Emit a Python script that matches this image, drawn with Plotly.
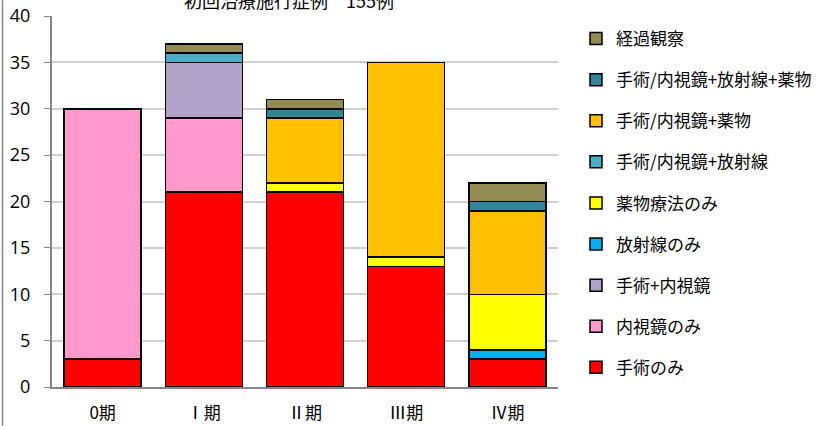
import plotly.graph_objects as go

categories = ["0期", "Ⅰ期", "Ⅱ期", "Ⅲ期", "Ⅳ期"]
series_names = ["手術のみ", "内視鏡のみ", "手術+内視鏡", "放射線のみ", "薬物療法のみ",
                "手術/内視鏡+放射線", "手術/内視鏡+薬物", "手術/内視鏡+放射線+薬物", "経過観察"]
surgery_only = [3, 21, 21, 13, 3]
endoscope_only = [27, 8, 0, 0, 0]
surgery_endoscope = [0, 6, 0, 0, 0]
radiation_only = [0, 0, 0, 0, 1]
drug_only = [0, 0, 1, 1, 6]
se_radiation = [0, 1, 0, 0, 0]
se_drug = [0, 0, 7, 21, 9]
se_radiation_drug = [0, 0, 1, 0, 1]
observation = [0, 1, 1, 0, 2]
series_values = [surgery_only, endoscope_only, surgery_endoscope, radiation_only, drug_only,
                 se_radiation, se_drug, se_radiation_drug, observation]
colors = ["#FF0000", "#FF99CC", "#B2A2C7", "#00B0F0", "#FFFF00",
          "#4BACC6", "#FFC000", "#31859C", "#948A54"]
title_text = "初回治療施行症例　155例"

fig = go.Figure()
n = len(series_names)
for i, (name, vals, col) in enumerate(zip(series_names, series_values, colors)):
    fig.add_trace(go.Bar(
        x=categories, y=vals, name=name, legendgroup=f"g{i}",
        legendrank=100 * (n - i),
        marker=dict(color=col, line=dict(color="#000000", width=1.5)),
    ))

W, H = 824, 426
ml, mr, mt, mb = 52, 266, 16, 39
pw, ph = W - ml - mr, H - mt - mb

fig.update_layout(
    width=W, height=H,
    margin=dict(l=ml, r=mr, t=mt, b=mb, autoexpand=False),
    barmode="stack", bargap=0.24,
    plot_bgcolor="white", paper_bgcolor="white",
    font=dict(family="Noto Sans CJK JP", size=15, color="#000000"),
    showlegend=True,
    legend=dict(traceorder="grouped", tracegroupgap=16, maxheight=1,
                xref="container", yref="container",
                x=576 / W, xanchor="left", y=1 - 21 / H, yanchor="top",
                font=dict(family="Noto Sans CJK JP", size=17, color="#000000"),
                bgcolor="rgba(0,0,0,0)"),
    xaxis=dict(showgrid=False, showline=True, linecolor="#868686", linewidth=2,
               ticks="", automargin=False, ticklabelstandoff=10,
               tickfont=dict(family="Noto Sans CJK JP", size=17)),
    yaxis=dict(range=[0, 40], dtick=5, showgrid=True, gridcolor="#D0D0D0", gridwidth=2,
               showline=True, linecolor="#868686", linewidth=2, ticks="outside",
               ticklen=6, tickcolor="#868686", zeroline=False, automargin=False,
               ticklabelstandoff=10,
               tickfont=dict(family="Open Sans", size=18)),
    annotations=[dict(text=title_text, xref="paper", yref="paper",
                      x=(289 - ml) / pw, y=1, xanchor="center", yanchor="bottom",
                      yshift=1, showarrow=False,
                      font=dict(family="Noto Sans CJK JP", size=18, color="#000000"))],
    shapes=[dict(type="line", xref="paper", yref="paper",
                 x0=(2.5 - ml) / pw, x1=(2.5 - ml) / pw, y0=-mb / ph, y1=1 + mt / ph,
                 line=dict(color="#868686", width=1.5))],
)
fig.write_html("out.html", config={"displayModeBar": False},
               post_script="document.body.style.margin='0';document.body.style.overflow='hidden';")
